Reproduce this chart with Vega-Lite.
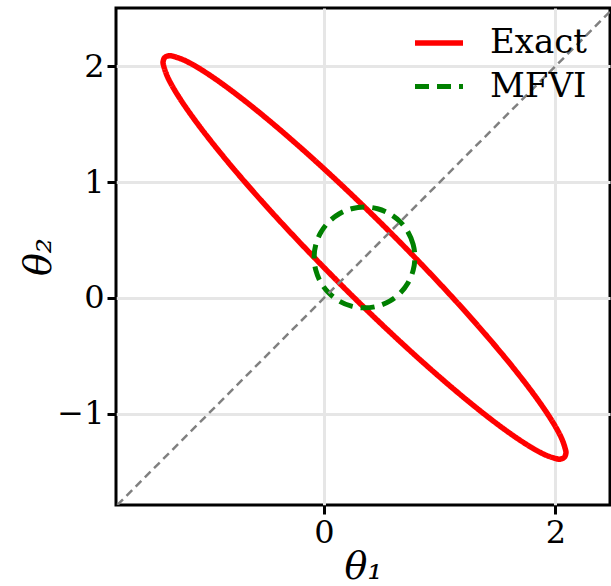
{
  "$schema": "https://vega.github.io/schema/vega-lite/v6.json",
  "width": 494,
  "height": 497,
  "autosize": "none",
  "padding": {"left": 116, "top": 8, "right": 1, "bottom": 81},
  "background": "white",
  "config": {
    "view": {"stroke": "black", "strokeWidth": 3},
    "font": "DejaVu Serif"
  },
  "datasets": {
    "curves": [
      {"series": "Exact", "i": 0, "x": 2.0753, "y": -1.3753},
      {"series": "Exact", "i": 5, "x": 2.0878, "y": -1.3496},
      {"series": "Exact", "i": 10, "x": 2.0872, "y": -1.3110},
      {"series": "Exact", "i": 20, "x": 2.0462, "y": -1.1963},
      {"series": "Exact", "i": 30, "x": 1.9538, "y": -1.0346},
      {"series": "Exact", "i": 40, "x": 1.8126, "y": -0.8308},
      {"series": "Exact", "i": 50, "x": 1.6269, "y": -0.5911},
      {"series": "Exact", "i": 60, "x": 1.4025, "y": -0.3229},
      {"series": "Exact", "i": 70, "x": 1.1461, "y": -0.0341},
      {"series": "Exact", "i": 80, "x": 0.8655, "y": 0.2663},
      {"series": "Exact", "i": 90, "x": 0.5692, "y": 0.5692},
      {"series": "Exact", "i": 100, "x": 0.2663, "y": 0.8655},
      {"series": "Exact", "i": 110, "x": -0.0341, "y": 1.1461},
      {"series": "Exact", "i": 120, "x": -0.3229, "y": 1.4025},
      {"series": "Exact", "i": 130, "x": -0.5911, "y": 1.6269},
      {"series": "Exact", "i": 140, "x": -0.8308, "y": 1.8126},
      {"series": "Exact", "i": 150, "x": -1.0346, "y": 1.9538},
      {"series": "Exact", "i": 160, "x": -1.1963, "y": 2.0462},
      {"series": "Exact", "i": 170, "x": -1.3110, "y": 2.0872},
      {"series": "Exact", "i": 175, "x": -1.3496, "y": 2.0878},
      {"series": "Exact", "i": 180, "x": -1.3753, "y": 2.0753},
      {"series": "Exact", "i": 185, "x": -1.3878, "y": 2.0496},
      {"series": "Exact", "i": 190, "x": -1.3872, "y": 2.0110},
      {"series": "Exact", "i": 200, "x": -1.3463, "y": 1.8963},
      {"series": "Exact", "i": 210, "x": -1.2538, "y": 1.7346},
      {"series": "Exact", "i": 220, "x": -1.1126, "y": 1.5308},
      {"series": "Exact", "i": 230, "x": -0.9269, "y": 1.2911},
      {"series": "Exact", "i": 240, "x": -0.7025, "y": 1.0229},
      {"series": "Exact", "i": 250, "x": -0.4461, "y": 0.7341},
      {"series": "Exact", "i": 260, "x": -0.1655, "y": 0.4337},
      {"series": "Exact", "i": 270, "x": 0.1308, "y": 0.1308},
      {"series": "Exact", "i": 280, "x": 0.4337, "y": -0.1655},
      {"series": "Exact", "i": 290, "x": 0.7341, "y": -0.4461},
      {"series": "Exact", "i": 300, "x": 1.0229, "y": -0.7025},
      {"series": "Exact", "i": 310, "x": 1.2911, "y": -0.9269},
      {"series": "Exact", "i": 320, "x": 1.5308, "y": -1.1126},
      {"series": "Exact", "i": 330, "x": 1.7346, "y": -1.2538},
      {"series": "Exact", "i": 340, "x": 1.8963, "y": -1.3463},
      {"series": "Exact", "i": 350, "x": 2.0110, "y": -1.3872},
      {"series": "Exact", "i": 355, "x": 2.0496, "y": -1.3878},
      {"series": "MFVI", "i": 0, "x": 0.785, "y": 0.35},
      {"series": "MFVI", "i": 15, "x": 0.7702, "y": 0.4626},
      {"series": "MFVI", "i": 30, "x": 0.7267, "y": 0.5675},
      {"series": "MFVI", "i": 45, "x": 0.6576, "y": 0.6576},
      {"series": "MFVI", "i": 60, "x": 0.5675, "y": 0.7267},
      {"series": "MFVI", "i": 75, "x": 0.4626, "y": 0.7702},
      {"series": "MFVI", "i": 90, "x": 0.35, "y": 0.785},
      {"series": "MFVI", "i": 105, "x": 0.2374, "y": 0.7702},
      {"series": "MFVI", "i": 120, "x": 0.1325, "y": 0.7267},
      {"series": "MFVI", "i": 135, "x": 0.0424, "y": 0.6576},
      {"series": "MFVI", "i": 150, "x": -0.0267, "y": 0.5675},
      {"series": "MFVI", "i": 165, "x": -0.0702, "y": 0.4626},
      {"series": "MFVI", "i": 180, "x": -0.085, "y": 0.35},
      {"series": "MFVI", "i": 195, "x": -0.0702, "y": 0.2374},
      {"series": "MFVI", "i": 210, "x": -0.0267, "y": 0.1325},
      {"series": "MFVI", "i": 225, "x": 0.0424, "y": 0.0424},
      {"series": "MFVI", "i": 240, "x": 0.1325, "y": -0.0267},
      {"series": "MFVI", "i": 255, "x": 0.2374, "y": -0.0702},
      {"series": "MFVI", "i": 270, "x": 0.35, "y": -0.085},
      {"series": "MFVI", "i": 285, "x": 0.4626, "y": -0.0702},
      {"series": "MFVI", "i": 300, "x": 0.5675, "y": -0.0267},
      {"series": "MFVI", "i": 315, "x": 0.6576, "y": 0.0424},
      {"series": "MFVI", "i": 330, "x": 0.7267, "y": 0.1325},
      {"series": "MFVI", "i": 345, "x": 0.7702, "y": 0.2374}
    ],
    "diag": [
      {"x": -2.5, "y": -2.5},
      {"x": 3.0, "y": 3.0}
    ]
  },
  "layer": [
    {
      "data": {"name": "curves"},
      "mark": {"type": "line", "interpolate": "cardinal-closed"},
      "encoding": {
        "x": {
          "field": "x", "type": "quantitative",
          "scale": {"domain": [-1.797, 2.471], "nice": false, "zero": false},
          "axis": {
            "values": [0, 2], "format": "d", "grid": true, "gridColor": "#e6e6e6", "gridWidth": 3,
            "domain": false, "ticks": true, "tickColor": "black", "tickWidth": 3, "tickSize": 9,
            "labelFontSize": 32, "labelColor": "black", "labelPadding": 3, "labelFont": "DejaVu Serif",
            "title": "θ₁", "titleFontSize": 38, "titleFontStyle": "italic", "titleFontWeight": "normal",
            "titleColor": "black", "titleFont": "DejaVu Serif", "titleY": 73, "titleBaseline": "alphabetic"
          }
        },
        "y": {
          "field": "y", "type": "quantitative",
          "scale": {"domain": [-1.786, 2.502], "nice": false, "zero": false},
          "axis": {
            "values": [-1, 0, 1, 2], "format": "d", "grid": true, "gridColor": "#e6e6e6", "gridWidth": 3,
            "domain": false, "ticks": true, "tickColor": "black", "tickWidth": 3, "tickSize": 9,
            "labelFontSize": 32, "labelColor": "black", "labelPadding": 3, "labelFont": "DejaVu Serif",
            "title": "θ₂", "titleFontSize": 38, "titleFontStyle": "italic", "titleFontWeight": "normal",
            "titleColor": "black", "titleFont": "DejaVu Serif", "titleX": -66, "titleBaseline": "alphabetic"
          }
        },
        "order": {"field": "i", "type": "quantitative"},
        "color": {
          "field": "series", "type": "nominal",
          "scale": {"domain": ["Exact", "MFVI"], "range": ["#ff0000", "#008000"]},
          "legend": {
            "title": null, "orient": "none", "legendX": 296, "legendY": 8,
            "symbolType": "stroke", "symbolSize": 2304, "symbolStrokeWidth": 5.5,
            "labelFontSize": 34, "labelFont": "DejaVu Serif", "labelColor": "black",
            "labelOffset": 24, "rowPadding": 0, "padding": 0
          }
        },
        "strokeDash": {
          "field": "series", "type": "nominal",
          "scale": {"domain": ["Exact", "MFVI"], "range": [[1, 0], [14, 8]]},
          "legend": {
            "title": null, "orient": "none", "legendX": 296, "legendY": 8,
            "symbolType": "stroke", "symbolSize": 2304, "symbolStrokeWidth": 5.5,
            "labelFontSize": 34, "labelFont": "DejaVu Serif", "labelColor": "black",
            "labelOffset": 24, "rowPadding": 0, "padding": 0
          }
        },
        "strokeWidth": {
          "field": "series", "type": "nominal",
          "scale": {"domain": ["Exact", "MFVI"], "range": [5.5, 5]},
          "legend": null
        }
      }
    },
    {
      "data": {"name": "diag"},
      "mark": {"type": "line", "color": "#808080", "strokeWidth": 2.5, "strokeDash": [8, 5], "clip": true},
      "encoding": {
        "x": {"field": "x", "type": "quantitative"},
        "y": {"field": "y", "type": "quantitative"}
      }
    }
  ]
}
